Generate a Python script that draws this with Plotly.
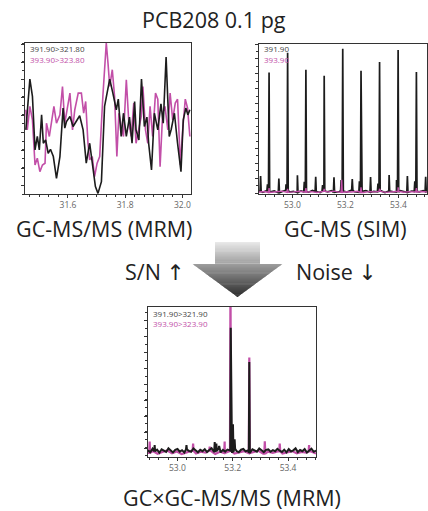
import numpy as np
import plotly.graph_objects as go

W, H = 428, 511
BLACK = "#1c1c1c"
PINK = "#c24fa8"
FONT = "Open Sans"

# ---------------- Panel A: GC-MS/MS (MRM), noise-level traces ----------------
mrm_black_t = [31.453, 31.467, 31.476, 31.485, 31.493, 31.500, 31.508, 31.514, 31.522, 31.531,
               31.539, 31.549, 31.560, 31.572, 31.583, 31.589, 31.595, 31.607, 31.618, 31.630,
               31.641, 31.653, 31.664, 31.676, 31.688, 31.696, 31.705, 31.717, 31.728, 31.736,
               31.746, 31.757, 31.769, 31.776, 31.786, 31.794, 31.804, 31.815, 31.824, 31.833,
               31.838, 31.848, 31.857, 31.867, 31.876, 31.882, 31.892, 31.902, 31.914, 31.925,
               31.933, 31.943, 31.954, 31.961, 31.972, 31.983, 31.995, 32.003, 32.012, 32.019,
               32.026]
mrm_black_v = [42.5, 76.1, 64.6, 29.2, 38.1, 29.2, 52.4, 33.6, 35.8, 27.0,
               29.6, 24.8, 10.4, 24.8, 56.9, 43.6, 48.0, 51.3, 44.7, 48.0,
               51.8, 42.5, 20.4, 33.6, 15.9, 4.9, 0.4, 8.2, 58.0, 66.8,
               76.1, 66.8, 55.8, 62.8, 38.1, 53.5, 38.1, 50.9, 33.6, 61.3,
               42.5, 35.8, 76.1, 44.7, 50.9, 33.6, 15.9, 53.5, 42.5, 59.7,
               46.9, 90.7, 38.1, 42.9, 53.5, 33.6, 14.8, 49.1, 56.9, 52.4,
               55.8]
mrm_pink_t = [31.453, 31.458, 31.467, 31.476, 31.485, 31.493, 31.502, 31.511, 31.520, 31.525,
              31.535, 31.543, 31.551, 31.560, 31.572, 31.581, 31.589, 31.598, 31.607, 31.616,
              31.624, 31.636, 31.647, 31.655, 31.662, 31.670, 31.676, 31.685, 31.693, 31.702,
              31.711, 31.722, 31.728, 31.734, 31.740, 31.746, 31.755, 31.763, 31.771, 31.778,
              31.786, 31.794, 31.804, 31.813, 31.821, 31.830, 31.838, 31.848, 31.856, 31.862,
              31.871, 31.879, 31.887, 31.896, 31.906, 31.914, 31.922, 31.931, 31.939, 31.949,
              31.957, 31.966, 31.975, 31.983, 31.993, 32.001, 32.010, 32.018, 32.026]
mrm_pink_v = [55.8, 42.5, 58.0, 49.1, 19.2, 23.7, 14.8, 19.2, 20.4, 46.9,
              38.1, 49.1, 58.0, 46.9, 52.4, 71.2, 46.9, 56.9, 66.8, 42.5,
              55.8, 66.8, 66.8, 53.5, 61.3, 33.6, 22.6, 24.8, 11.5, 20.4,
              24.8, 64.6, 85.6, 100.0, 86.7, 71.2, 82.3, 64.6, 24.8, 53.5,
              44.7, 38.1, 75.7, 46.9, 38.1, 60.2, 33.6, 42.5, 51.3, 71.2,
              42.5, 33.6, 58.0, 38.1, 66.8, 62.8, 18.1, 53.5, 58.0, 42.5,
              66.8, 49.1, 60.2, 62.8, 19.2, 42.5, 62.8, 56.9, 38.1]

# ---------------- Panel B: GC-MS (SIM) ----------------
sim_black_peak_t = [52.912, 52.982, 53.051, 53.120, 53.190, 53.259, 53.329, 53.399, 53.468,
                    52.880, 52.949, 53.019, 53.088, 53.157, 53.226, 53.295, 53.365, 53.434, 53.503,
                    52.906, 52.976, 53.045, 53.114, 53.184, 53.253, 53.323, 53.393, 53.462]
sim_black_peak_v = [80.9, 94.2, 82.7, 78.7, 96.9, 82.0, 88.0, 96.0, 81.3,
                    11.6, 9.8, 12.0, 11.0, 10.7, 9.6, 10.9, 12.2, 11.6, 11.0,
                    6.0, 6.0, 7.6, 5.5, 8.9, 8.0, 6.5, 8.9, 8.0]
sim_pink_peak_t = [52.912, 52.982, 53.051, 53.120, 53.186, 53.259, 53.329, 53.399, 53.468]
sim_pink_peak_v = [3.5, 3.0, 3.5, 3.0, 9.0, 4.0, 3.0, 4.0, 3.5]
sim_black_base = [1.2, 0.6, 1.8, 0.9, 1.5, 0.4, 1.1, 2.0, 0.8, 1.3, 0.5, 1.6, 1.0, 0.7, 1.9,
                  1.2, 0.5, 1.4, 0.9, 1.7, 0.6, 1.1, 1.5, 0.8, 2.1, 1.0, 0.6, 1.3, 1.8, 0.7,
                  1.2, 0.9, 1.6, 0.5, 1.4, 1.1, 0.8, 1.7, 1.0, 0.6, 1.5, 1.2, 0.9, 1.8, 1.1]
sim_pink_base = [0.8, 1.2, 0.5, 1.0, 1.4, 0.6, 0.9, 1.3, 0.7, 1.1, 0.5, 1.2, 0.9, 1.4, 0.6,
                 1.0, 0.8, 1.3, 0.5, 1.1, 0.9, 1.2, 0.6, 1.0, 1.3, 0.7, 1.1, 0.8, 1.2, 0.9]
sim_span = (52.874, 53.508)

# ---------------- Panel C: GCxGC-MS/MS (MRM) ----------------
gcxgc_black_peak_t = [53.193, 53.201, 53.207, 53.260, 52.918, 53.033, 53.135, 53.141, 53.151]
gcxgc_black_peak_v = [86.0, 21.0, 11.0, 63.0, 7.0, 7.0, 9.0, 8.0, 6.5]
gcxgc_pink_peak_t = [53.192, 53.260, 52.900, 53.057, 53.117, 53.171, 53.316, 53.370, 53.476]
gcxgc_pink_peak_v = [125.0, 66.0, 9.4, 8.0, 6.0, 9.4, 9.6, 8.0, 7.0]
gcxgc_black_base = [3.5, 2.2, 4.6, 2.8, 3.9, 1.9, 4.2, 3.0, 2.4, 4.8, 3.3, 2.1, 3.8, 4.4, 2.6,
                    3.6, 2.0, 4.1, 3.1, 2.5, 4.7, 3.4, 2.2, 3.9, 2.9, 4.3, 2.3, 3.7, 4.9, 2.7,
                    3.2, 4.5, 2.1, 3.8, 2.6, 4.0, 3.3, 2.4, 4.6, 3.0, 2.2, 3.9, 4.4, 2.8, 3.5,
                    2.0, 4.2, 3.1, 2.6, 4.7, 3.4, 2.3, 3.8, 4.1, 2.5, 3.6, 2.9, 4.5, 3.2, 2.4,
                    3.9, 2.1, 4.3, 2.7, 3.5, 4.8, 2.3, 3.7, 2.9, 4.4, 2.0, 3.6, 4.6, 2.5, 3.3]
gcxgc_pink_base = [1.8, 3.0, 1.2, 2.4, 3.4, 1.5, 2.7, 1.0, 2.2, 3.1, 1.4, 2.6, 1.9, 3.3, 1.1,
                   2.5, 1.7, 3.0, 1.3, 2.3, 2.9, 1.6, 2.1, 3.2, 1.2, 2.6, 1.8, 2.8, 1.4, 2.2,
                   3.0, 1.5, 2.4, 1.9, 2.7, 1.3]
gcxgc_span = (52.894, 53.501)

labels_a = ["391.90>321.80", "393.90>323.80"]
labels_b = ["391.90", "393.90"]
labels_c = ["391.90>321.90", "393.90>323.90"]


def chromatogram(base_vals, span, peak_t, peak_v, half_w):
    """Merge a sampled baseline with narrow peaks (apex plus two feet)."""
    bt = np.linspace(span[0], span[1], len(base_vals))
    bv = np.asarray(base_vals, dtype=float)
    pts = list(zip(bt, bv))
    for t, v in zip(peak_t, peak_v):
        foot = bv[np.argmin(np.abs(bt - t))]
        pts += [(t - half_w, foot), (t, v), (t + half_w, foot)]
    pts.sort(key=lambda p: p[0])
    return [p[0] for p in pts], [p[1] for p in pts]


def px2paper(px, py):
    return px / W, 1 - py / H


fig = go.Figure()

# Panel A traces
fig.add_trace(go.Scatter(x=mrm_pink_t, y=mrm_pink_v, mode="lines",
                         line=dict(color=PINK, width=1.6), xaxis="x", yaxis="y"))
fig.add_trace(go.Scatter(x=mrm_black_t, y=mrm_black_v, mode="lines",
                         line=dict(color=BLACK, width=1.6), xaxis="x", yaxis="y"))

# Panel B traces
bx, by = chromatogram(sim_black_base, sim_span, sim_black_peak_t, sim_black_peak_v, 0.0022)
pxs, pys = chromatogram(sim_pink_base, sim_span, sim_pink_peak_t, sim_pink_peak_v, 0.0022)
fig.add_trace(go.Scatter(x=bx, y=by, mode="lines", line=dict(color=BLACK, width=1.7),
                         xaxis="x2", yaxis="y2"))
fig.add_trace(go.Scatter(x=pxs, y=pys, mode="lines", line=dict(color=PINK, width=1.4),
                         xaxis="x2", yaxis="y2"))

# Panel C traces
cpx, cpy = chromatogram(gcxgc_pink_base, gcxgc_span, gcxgc_pink_peak_t, gcxgc_pink_peak_v, 0.0018)
cbx, cby = chromatogram(gcxgc_black_base, gcxgc_span, gcxgc_black_peak_t, gcxgc_black_peak_v, 0.0018)
fig.add_trace(go.Scatter(x=cpx, y=cpy, mode="lines", line=dict(color=PINK, width=2.2),
                         xaxis="x3", yaxis="y3"))
fig.add_trace(go.Scatter(x=cbx, y=cby, mode="lines", line=dict(color=BLACK, width=2.0),
                         xaxis="x3", yaxis="y3"))

tickfont = dict(family=FONT, size=8.5, color="#666666")


def xax(domain, rng, anchor, minor_dtick):
    return dict(domain=domain, range=list(rng), anchor=anchor, showline=True, mirror=True,
                linecolor="#333333", linewidth=1.3, ticks="outside", ticklen=3, tickwidth=1,
                tickcolor="#333333", dtick=0.2, tick0=0, tickformat=".1f", tickfont=tickfont,
                showgrid=False, zeroline=False,
                minor=dict(ticks="outside", ticklen=2, dtick=minor_dtick, tickcolor="#333333"))


def yax(domain, rng, anchor, dtick, tick0):
    return dict(domain=domain, range=list(rng), anchor=anchor, showline=True, mirror=True,
                linecolor="#333333", linewidth=1.3, ticks="outside", ticklen=3, tickwidth=1,
                tickcolor="#333333", dtick=dtick, tick0=tick0, showticklabels=False,
                showgrid=False, zeroline=False,
                minor=dict(ticks="outside", ticklen=1.5, dtick=dtick / 2, tickcolor="#333333"))


xa1 = [25 / W, 191 / W]
ya1 = [1 - 194 / H, 1 - 43 / H]
xa2 = [259 / W, 427 / W]
ya2 = [1 - 194 / H, 1 - 44 / H]
xa3 = [148 / W, 316 / W]
ya3 = [1 - 457 / H, 1 - 307 / H]

fig.update_layout(
    width=W, height=H, margin=dict(l=0, r=0, t=0, b=0),
    paper_bgcolor="white", plot_bgcolor="white", showlegend=False,
    xaxis=xax(xa1, (31.45, 32.03), "y", 0.2 / 6),
    yaxis=yax(ya1, (0, 100), "x", 11.7, 5.5),
    xaxis2=xax(xa2, sim_span, "y2", 0.2 / 6),
    yaxis2=yax(ya2, (-0.5, 100), "x2", 10, 0),
    xaxis3=xax(xa3, gcxgc_span, "y3", 0.2 / 6),
    yaxis3=yax(ya3, (-1, 100), "x3", 10.7, 5),
)

ann = []


def text(px, py, s, size=21.5, color="#222222", xanchor="center"):
    x, y = px2paper(px, py)
    ann.append(dict(x=x, y=y, xref="paper", yref="paper", text=s, showarrow=False,
                    xanchor=xanchor, yanchor="middle",
                    font=dict(family=FONT, size=size, color=color)))


ARROW_STYLE = "font-family:'DejaVu Sans';color:#222222"
text(214, 19, "PCB208 0.1 pg")
text(104, 228, "GC-MS/MS (MRM)")
text(345, 228, "GC-MS (SIM)")
text(186, 271, f"S/N <span style=\"{ARROW_STYLE}\">\u2191</span>", xanchor="right")
text(294, 271, f"Noise <span style=\"{ARROW_STYLE}\">\u2193</span>", xanchor="left")
text(232, 497, "GC×GC-MS/MS (MRM)")

text(28, 49, labels_a[0], 8, "#444444", "left")
text(28, 59, labels_a[1], 8, PINK, "left")
text(262, 49, labels_b[0], 8, "#444444", "left")
text(262, 59, labels_b[1], 8, PINK, "left")
text(151, 313, labels_c[0], 8, "#444444", "left")
text(151, 323, labels_c[1], 8, PINK, "left")

# Gradient arrow made of thin horizontal bands
shapes = []
top, neck, apex = 242.0, 263.3, 297.0
stem_l, stem_r = 215.0, 260.0
head_l, head_r = 191.7, 283.3
cx = 237.5
n = 60
for i in range(n):
    y0 = top + (apex - top) * i / n
    y1 = top + (apex - top) * (i + 1) / n + 0.6
    frac = (y0 - top) / (apex - top)
    g = int(round(232 - 190 * frac))
    col = f"rgb({g},{g},{g})"
    if y0 < neck:
        y1 = min(y1, neck + 0.3)
        pts = [(stem_l, y0), (stem_r, y0), (stem_r, y1), (stem_l, y1)]
    else:
        def hw(yy):
            yy = min(yy, apex)
            return (head_r - head_l) / 2 * (apex - yy) / (apex - neck)
        pts = [(cx - hw(y0), y0), (cx + hw(y0), y0), (cx + hw(y1), min(y1, apex)),
               (cx - hw(y1), min(y1, apex))]
    path = "M " + " L ".join(f"{px / W:.5f},{1 - py / H:.5f}" for px, py in pts) + " Z"
    shapes.append(dict(type="path", xref="paper", yref="paper", path=path,
                       fillcolor=col, line=dict(width=0), layer="above"))

fig.update_layout(annotations=ann, shapes=shapes)
fig.write_html("out.html", config={"displayModeBar": False},
               post_script="document.body.style.margin='0';document.body.style.overflow='hidden';")
